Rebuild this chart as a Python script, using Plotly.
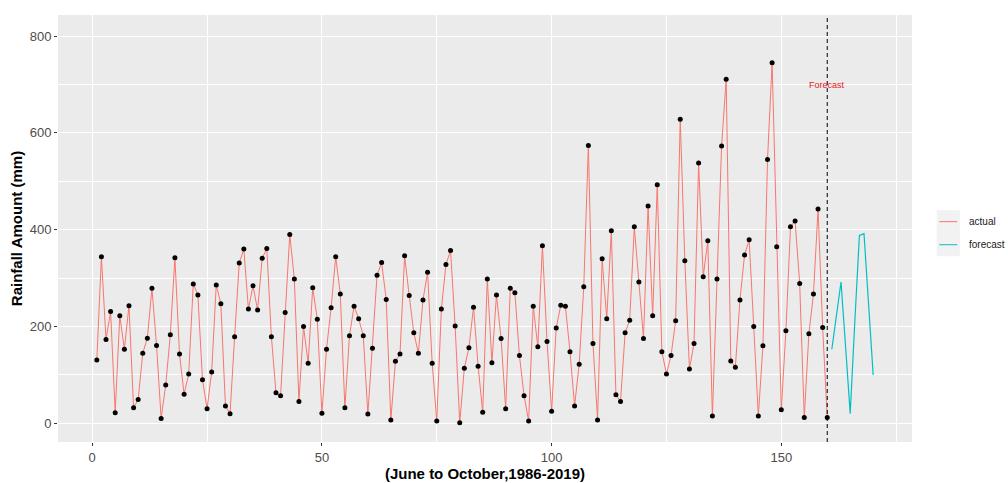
import plotly.graph_objects as go

# ---- data ----
actual_x = list(range(1, 161))
actual_y = [
    131, 344, 173, 231, 22, 222, 153, 243, 32, 49,
    145, 176, 279, 161, 10, 79, 183, 342, 143, 60,
    102, 288, 265, 90, 30, 106, 286, 247, 36, 20,
    179, 331, 360, 236, 284, 234, 341, 361, 179, 63,
    57, 229, 390, 298, 45, 200, 124, 280, 215, 21,
    153, 239, 344, 267, 32, 181, 242, 216, 181, 19,
    155, 306, 332, 256, 7, 128, 143, 346, 264, 187,
    145, 255, 312, 124, 5, 236, 328, 357, 201, 1,
    114, 156, 240, 118, 23, 298, 125, 265, 175, 30,
    279, 270, 140, 57, 5, 242, 158, 367, 169, 25,
    197, 244, 242, 148, 36, 122, 282, 574, 165, 7,
    340, 216, 398, 59, 45, 187, 213, 406, 292, 175,
    449, 222, 493, 148, 102, 140, 212, 628, 336, 112,
    165, 538, 303, 377, 15, 298, 573, 711, 129, 116,
    255, 348, 379, 200, 15, 160, 545, 745, 365, 28,
    191, 406, 418, 289, 12, 185, 267, 443, 198, 12,
]
forecast_x = list(range(161, 171))
forecast_y = [153, 225, 292, 157, 20, 210, 388, 392, 245, 100]

cutoff_x = 160
label_text = "Forecast"
label_y = 700
series_names = ["actual", "forecast"]
series_colors = ["#F8766D", "#00BFC4"]
x_title = "(June to October,1986-2019)"
y_title = "Rainfall Amount (mm)"

fig = go.Figure()
fig.add_trace(go.Scatter(x=actual_x, y=actual_y, mode="lines",
                         line=dict(color=series_colors[0], width=1),
                         name=series_names[0], showlegend=False))
fig.add_trace(go.Scatter(x=actual_x, y=actual_y, mode="markers",
                         marker=dict(color="black", size=5),
                         showlegend=False))
fig.add_trace(go.Scatter(x=forecast_x, y=forecast_y, mode="lines",
                         line=dict(color=series_colors[1], width=1.2),
                         name=series_names[1], showlegend=False))

fig.add_vline(x=cutoff_x, line=dict(color="black", width=1, dash="4px,3px"))
fig.add_annotation(x=cutoff_x, y=label_y, text=label_text, showarrow=False,
                   font=dict(color="#E41A1C", size=9, family="Liberation Sans"))

# manual ggplot-style legend (keys + labels), paper coords
key_x0, key_x1 = 1.029, 1.056
key_y = [(0.489, 0.543), (0.435, 0.489)]
for (y0, y1), col, nm in zip(key_y, series_colors, series_names):
    fig.add_shape(type="rect", xref="paper", yref="paper", x0=key_x0, x1=key_x1,
                  y0=y0, y1=y1, fillcolor="#F2F2F2", line=dict(width=0), layer="below")
    ym = (y0 + y1) / 2
    fig.add_shape(type="line", xref="paper", yref="paper", x0=key_x0 + 0.003,
                  x1=key_x1 - 0.003, y0=ym, y1=ym, line=dict(color=col, width=1))
    fig.add_annotation(xref="paper", yref="paper", x=key_x1 + 0.008, y=ym, text=nm,
                       showarrow=False, xanchor="left", yanchor="middle",
                       font=dict(size=10, color="#1A1A1A", family="Liberation Sans"))

axis_common = dict(
    showgrid=True, gridcolor="white", gridwidth=1.2, zeroline=False,
    ticks="outside", ticklen=3, tickcolor="#333333", tickwidth=1,
    tickfont=dict(size=13, color="#4D4D4D", family="Liberation Sans"),
    showline=False, automargin=False,
)
fig.update_xaxes(range=[-7.45, 178.45], tickmode="linear", tick0=0, dtick=50,
                 minor=dict(tick0=0, dtick=25, showgrid=True, gridcolor="white",
                            gridwidth=0.6, ticks=""),
                 title=dict(text="<b>" + x_title + "</b>", standoff=2,
                            font=dict(size=15, color="black", family="Liberation Sans")),
                 **axis_common)
fig.update_yaxes(range=[-38.6, 843.6], tickmode="linear", tick0=0, dtick=200,
                 minor=dict(tick0=0, dtick=100, showgrid=True, gridcolor="white",
                            gridwidth=0.6, ticks=""),
                 title=dict(text="<b>" + y_title + "</b>", standoff=3,
                            font=dict(size=15, color="black", family="Liberation Sans")),
                 **axis_common)

fig.update_layout(
    width=1008, height=483,
    margin=dict(l=58, r=96, t=15, b=41),
    plot_bgcolor="#EBEBEB", paper_bgcolor="white",
    showlegend=False,
)
fig.write_html("out.html")
